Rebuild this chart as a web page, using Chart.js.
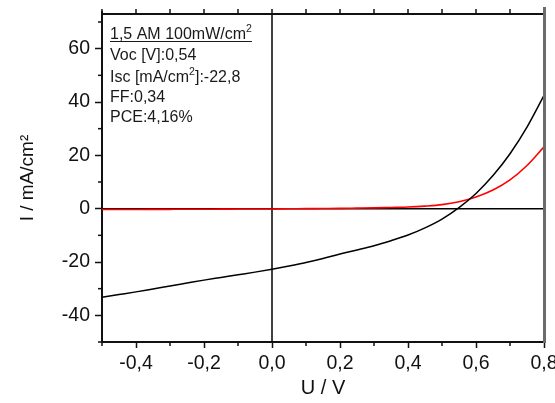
<!DOCTYPE html>
<html><head><meta charset="utf-8">
<script src="https://cdn.jsdelivr.net/npm/chart.js@4/dist/chart.umd.min.js"></script>
<style>html,body{margin:0;padding:0;background:#fff}</style>
</head><body>
<canvas id="c" width="555" height="403" style="width:555px;height:403px;display:block"></canvas>
<script>
// ---- data ----
const voltage = [-0.5,-0.45,-0.4,-0.35,-0.3,-0.25,-0.2,-0.15,-0.1,-0.05,0,0.05,0.1,0.15,0.2,0.25,0.3,0.35,0.4,0.45,0.5,0.55,0.6,0.65,0.7,0.75,0.8];
const illuminatedCurrent = [-33.2,-32.2,-31.2,-30.1,-29.0,-27.9,-26.8,-25.8,-24.8,-23.8,-22.7,-21.5,-20.2,-18.7,-17.0,-15.5,-13.9,-12.0,-9.9,-7.2,-3.9,0.4,5.7,12.4,20.6,30.6,42.5];
const darkCurrent = [-0.3,-0.3,-0.3,-0.28,-0.25,-0.22,-0.2,-0.18,-0.15,-0.12,-0.1,-0.05,0,0.05,0.1,0.2,0.3,0.45,0.6,0.95,1.5,2.6,4.4,7.0,10.8,16.2,23.2];
const xMajorTicks = [-0.4,-0.2,0,0.2,0.4,0.6,0.8];
const xMinorTicks = [-0.5,-0.3,-0.1,0.1,0.3,0.5,0.7];
const yMajorTicks = [-40,-20,0,20,40,60];
const yMinorTicks = [-50,-30,-10,10,30,50,70];
const infoLines = [
  {parts:[['1,5 AM 100mW/cm',0],['2',1]], underline:true},
  {parts:[['Voc [V]:0,54',0]]},
  {parts:[['Isc [mA/cm',0],['2',1],[']:-22,8',0]]},
  {parts:[['FF:0,34',0]]},
  {parts:[['PCE:4,16%',0]]}
];

const FONT = 'Liberation Sans, Arial, sans-serif';

const deco = {
  id: 'deco',
  beforeDatasetsDraw(chart) {
    const {ctx, chartArea: a, scales: {x, y}} = chart;
    ctx.save();
    ctx.strokeStyle = '#000'; ctx.lineWidth = 1.5;
    const y0 = y.getPixelForValue(0), x0 = x.getPixelForValue(0);
    ctx.beginPath(); ctx.moveTo(a.left, y0); ctx.lineTo(a.right, y0); ctx.stroke();
    ctx.beginPath(); ctx.moveTo(x0, a.top); ctx.lineTo(x0, a.bottom); ctx.stroke();
    ctx.restore();
  },
  afterDraw(chart) {
    const {ctx, chartArea: a, scales: {x, y}} = chart;
    ctx.save();
    ctx.strokeStyle = '#111'; ctx.lineWidth = 1.5;
    xMinorTicks.forEach(v => { const p = x.getPixelForValue(v); ctx.beginPath(); ctx.moveTo(p, a.bottom); ctx.lineTo(p, a.bottom + 4); ctx.stroke(); });
    yMinorTicks.forEach(v => { const p = y.getPixelForValue(v); ctx.beginPath(); ctx.moveTo(a.left, p); ctx.lineTo(a.left - 4, p); ctx.stroke(); });
    ctx.lineWidth = 2;
    ctx.beginPath(); ctx.moveTo(a.left - 1, a.top); ctx.lineTo(a.right, a.top); ctx.stroke();
    ctx.beginPath(); ctx.moveTo(a.left, a.top); ctx.lineTo(a.left, a.top - 3); ctx.stroke();
    ctx.lineWidth = 1.5;
    xMajorTicks.concat(xMinorTicks).forEach(v => { const p = x.getPixelForValue(v); if (p > a.right - 2) return; ctx.beginPath(); ctx.moveTo(p, a.top); ctx.lineTo(p, a.top - 5); ctx.stroke(); });
    ctx.strokeStyle = '#6b6b6b'; ctx.lineWidth = 3;
    ctx.beginPath(); ctx.moveTo(a.right + 0.5, a.top - 7); ctx.lineTo(a.right + 0.5, a.bottom + 1); ctx.stroke();
    ctx.fillStyle = '#1a1a1a'; ctx.strokeStyle = '#1a1a1a'; ctx.lineWidth = 1;
    ctx.textBaseline = 'alphabetic'; ctx.textAlign = 'left';
    const baselines = [39, 60, 82, 102, 122];
    infoLines.forEach((ln, i) => {
      let cx = 110; const by = baselines[i];
      ln.parts.forEach(([t, sup]) => {
        ctx.font = (sup ? '10.5px ' : '16px ') + FONT;
        ctx.fillText(t, cx, sup ? by - 7 : by);
        cx += ctx.measureText(t).width;
      });
      if (ln.underline) { ctx.beginPath(); ctx.moveTo(110, by + 2.5); ctx.lineTo(cx, by + 2.5); ctx.stroke(); }
    });
    ctx.restore();
  }
};

new Chart(document.getElementById('c'), {
  type: 'scatter',
  data: {
    datasets: [
      {data: voltage.map((v, i) => ({x: v, y: darkCurrent[i]})), showLine: true, borderColor: '#ff0000', borderWidth: 1.6, pointRadius: 0, cubicInterpolationMode: 'monotone', order: 2},
      {data: voltage.map((v, i) => ({x: v, y: illuminatedCurrent[i]})), showLine: true, borderColor: '#000000', borderWidth: 1.5, pointRadius: 0, cubicInterpolationMode: 'monotone', order: 1}
    ]
  },
  options: {
    responsive: false, animation: false, devicePixelRatio: 1,
    layout: {padding: {left: 0, right: 11, top: 14, bottom: 0}},
    plugins: {legend: {display: false}, tooltip: {enabled: false}},
    scales: {
      x: {
        type: 'linear', min: -0.5, max: 0.8,
        afterBuildTicks: s => { s.ticks = xMajorTicks.map(v => ({value: v})); },
        afterFit: s => { s.height = 61; s.paddingLeft = 0; s.paddingRight = 0; },
        ticks: {font: {family: FONT, size: 19.5}, color: '#111', padding: 4, maxRotation: 0, autoSkip: false,
          callback: v => Number(v).toFixed(1).replace('.', ',')},
        grid: {drawOnChartArea: false, tickLength: 6, tickColor: '#111', tickWidth: 1.5},
        border: {color: '#111', width: 2},
        title: {display: true, text: 'U / V', font: {family: FONT, size: 20}, color: '#111', padding: {top: 0, bottom: 3}}
      },
      y: {
        type: 'linear', min: -50, max: 73,
        afterBuildTicks: s => { s.ticks = yMajorTicks.map(v => ({value: v})); },
        afterFit: s => { s.width = 102; s.paddingTop = 0; s.paddingBottom = 0; },
        ticks: {font: {family: FONT, size: 19.5}, color: '#111', padding: 5, autoSkip: false,
          callback: v => String(v)},
        grid: {drawOnChartArea: false, tickLength: 7, tickColor: '#111', tickWidth: 1.5},
        border: {color: '#111', width: 2},
        title: {display: true, text: 'I / mA/cm²', font: {family: FONT, size: 19}, color: '#111', padding: {top: 16, bottom: 0}}
      }
    }
  },
  plugins: [deco]
});
</script>
</body></html>
